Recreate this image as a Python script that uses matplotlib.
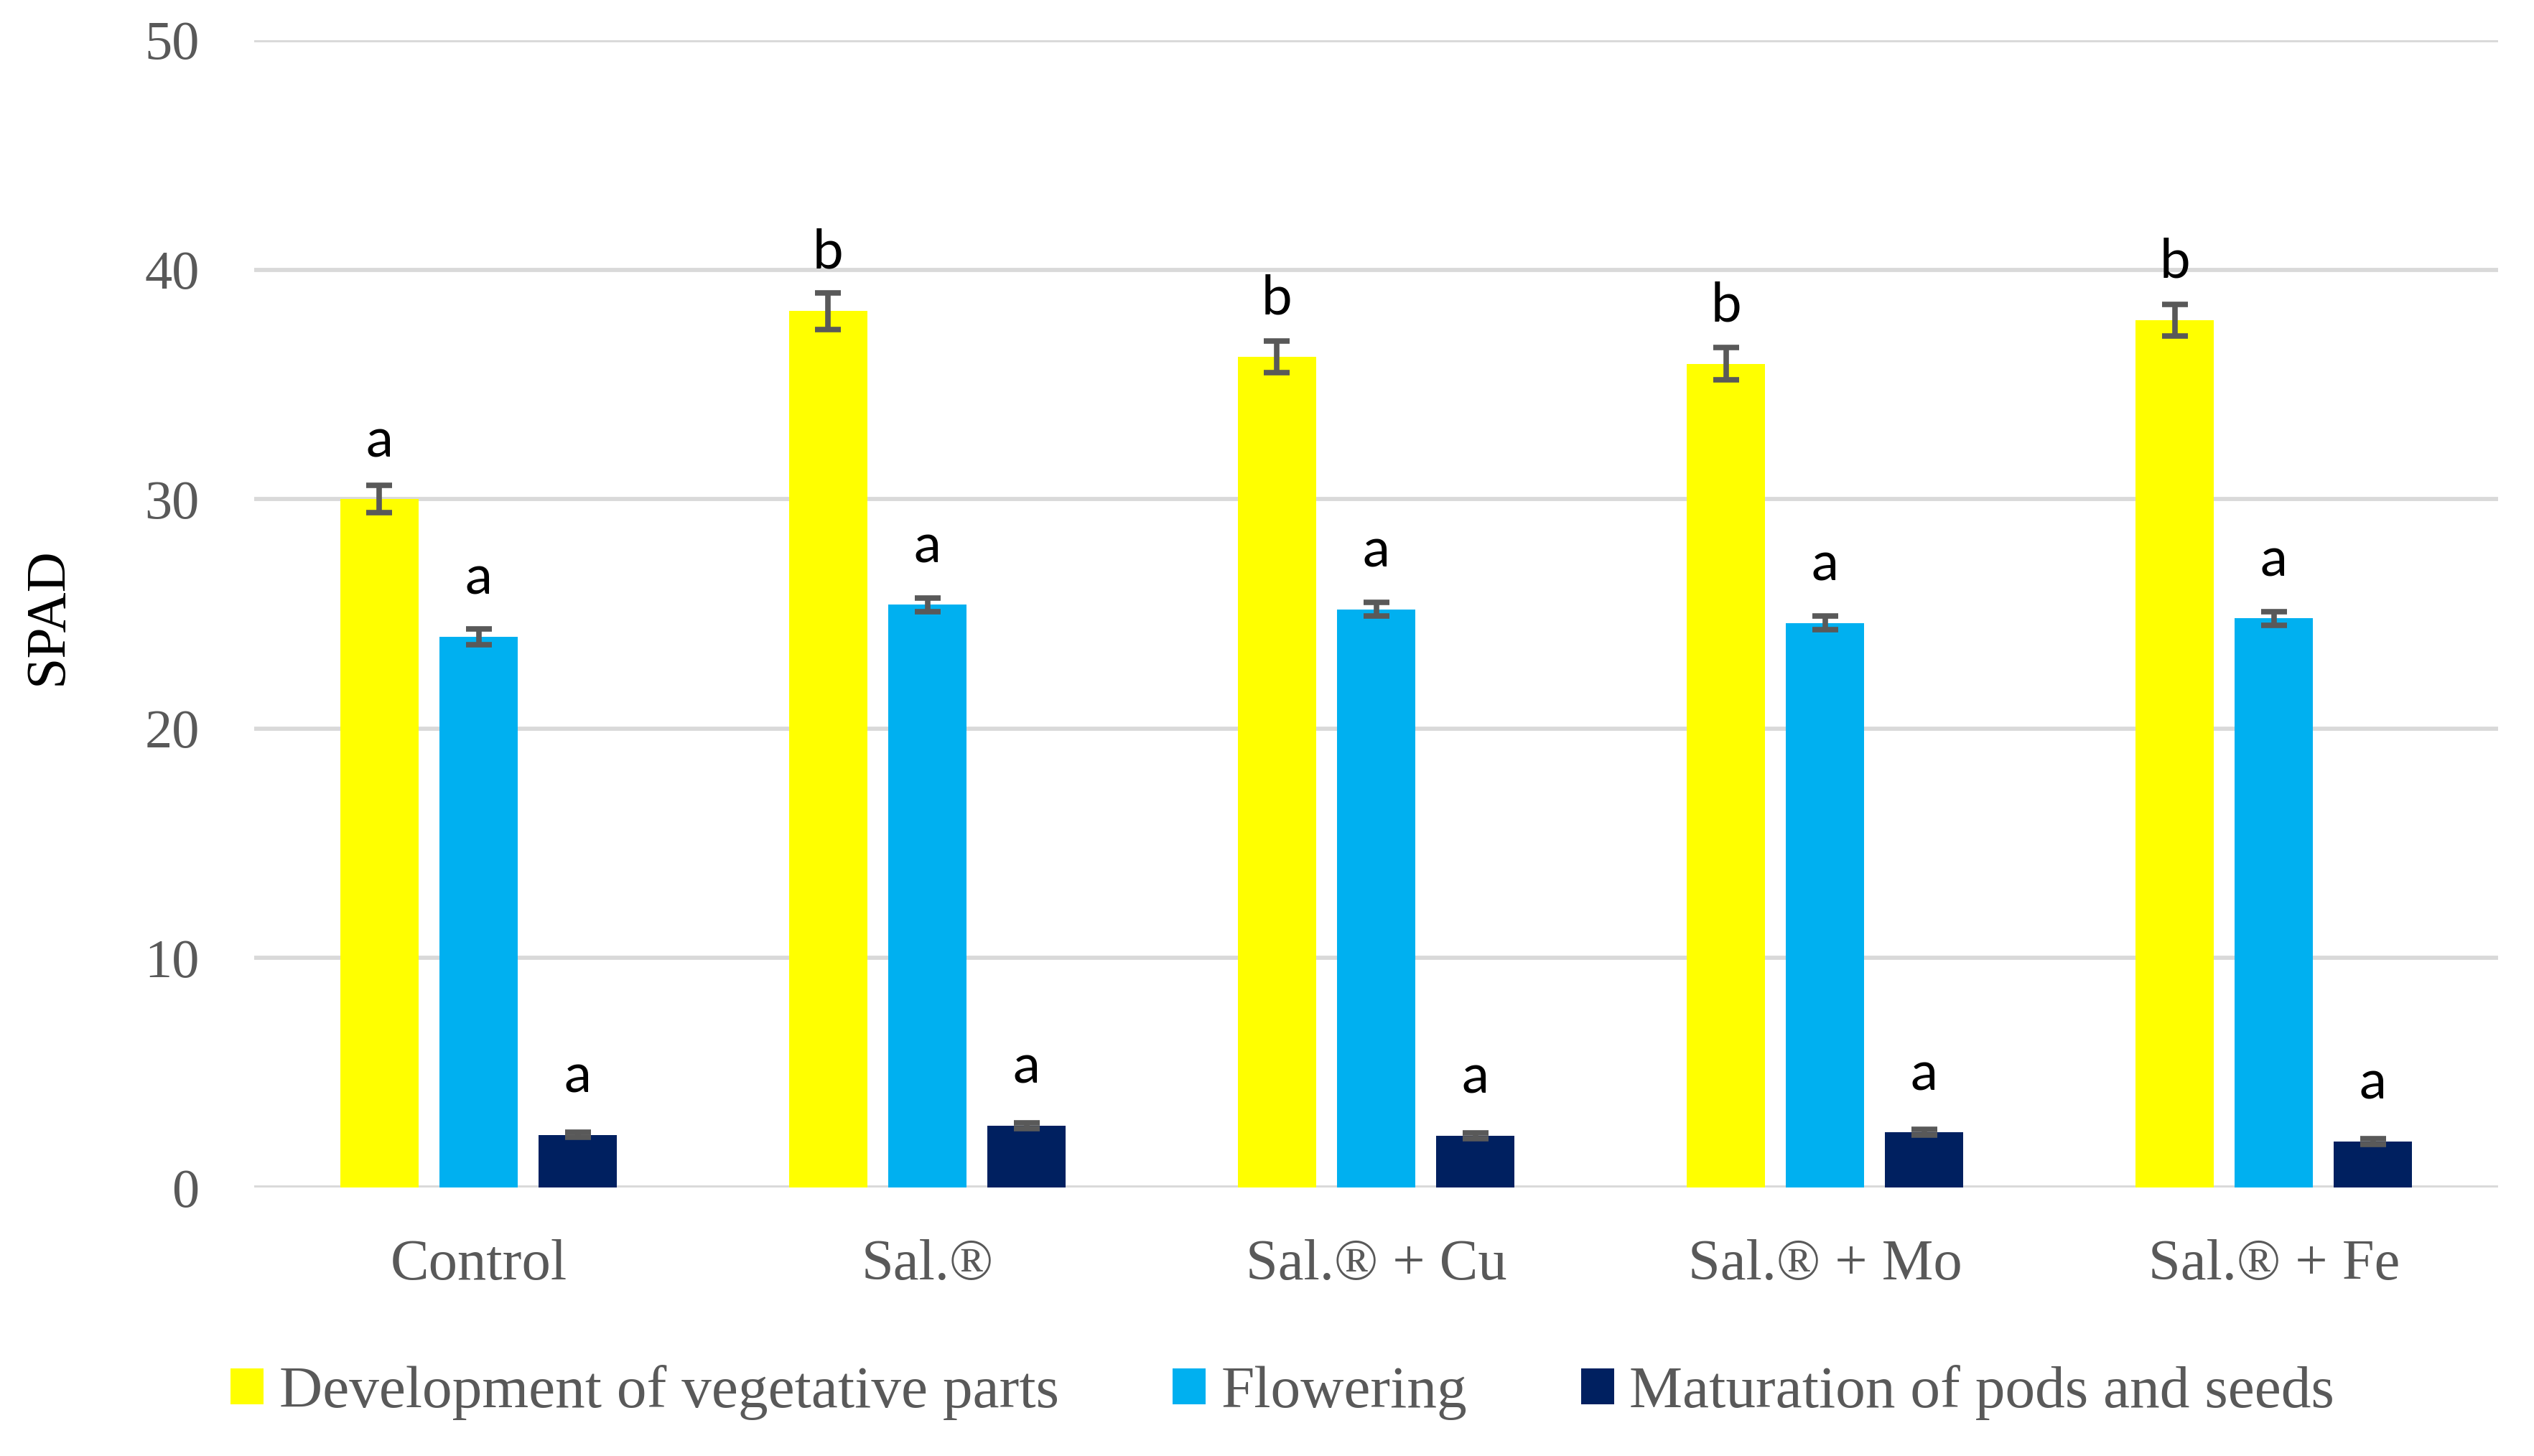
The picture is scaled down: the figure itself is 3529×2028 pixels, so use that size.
import numpy as np
import matplotlib
matplotlib.use("Agg")
import matplotlib.pyplot as plt

# data
treatments = ["Control", "Sal.®", "Sal.® + Cu", "Sal.® + Mo", "Sal.® + Fe"]
stages = ["Development of vegetative parts", "Flowering", "Maturation of pods and seeds"]

vegetative = [30.0, 38.2, 36.2, 35.9, 37.8]
vegetative_err = [0.6, 0.8, 0.7, 0.7, 0.7]
flowering = [24.0, 25.4, 25.2, 24.6, 24.8]
flowering_err = [0.35, 0.3, 0.3, 0.3, 0.3]
maturation = [2.3, 2.7, 2.25, 2.4, 2.0]
maturation_err = [0.12, 0.12, 0.12, 0.12, 0.12]

vegetative_letters = ["a", "b", "b", "b", "b"]
flowering_letters = ["a", "a", "a", "a", "a"]
maturation_letters = ["a", "a", "a", "a", "a"]

colors = ["#FFFF00", "#00B0F0", "#002060"]
grey = "#595959"

plt.rcParams['font.family'] = ['Liberation Serif', 'DejaVu Serif']

fig = plt.figure(figsize=(35.3, 20.28), dpi=100)
ax = fig.add_axes([0.1003, 0.1844, 0.8853, 0.788])

x = np.arange(len(treatments))
width = 0.175
step = 0.221

series = [
    (vegetative, vegetative_err, vegetative_letters),
    (flowering, flowering_err, flowering_letters),
    (maturation, maturation_err, maturation_letters),
]

for i, (vals, errs, letters) in enumerate(series):
    pos = x + (i - 1) * step
    ax.bar(pos, vals, width, color=colors[i], label=stages[i], zorder=3)
    ax.errorbar(pos, vals, yerr=errs, fmt='none', ecolor=grey,
                elinewidth=5.5, capsize=13, capthick=5.5, zorder=4)
    # significance letters above each bar
    for px, v, letter in zip(pos, vals, letters):
        ax.text(px, v + 1.85, letter, ha='center', va='baseline',
                fontsize=55, family=['Lato', 'DejaVu Sans'], color='black')

ax.set_xlim(-0.5, len(treatments) - 0.5)
ax.set_ylim(0, 50)
ax.set_yticks([0, 10, 20, 30, 40, 50])
ax.set_xticks(x)
ax.set_xticklabels(treatments)

ax.yaxis.grid(True, color="#D9D9D9", linewidth=4.2, zorder=0)
ax.set_axisbelow(True)
for s in ax.spines.values():
    s.set_visible(False)

ax.tick_params(axis='y', length=0, pad=55, labelsize=55, labelcolor=grey)
ax.tick_params(axis='x', length=0, pad=52, labelsize=58, labelcolor=grey)

fig.text(0.019, 0.577, "SPAD", rotation=90, ha='center', va='center',
         fontsize=56, color='black')

fig.legend(loc='center', bbox_to_anchor=(0.506, 0.0434), ncol=3,
           frameon=False, fontsize=60, handlelength=0.55, handleheight=0.55,
           handletextpad=0.26, columnspacing=1.9, labelcolor=grey)

fig.savefig("out.png", dpi=100)
